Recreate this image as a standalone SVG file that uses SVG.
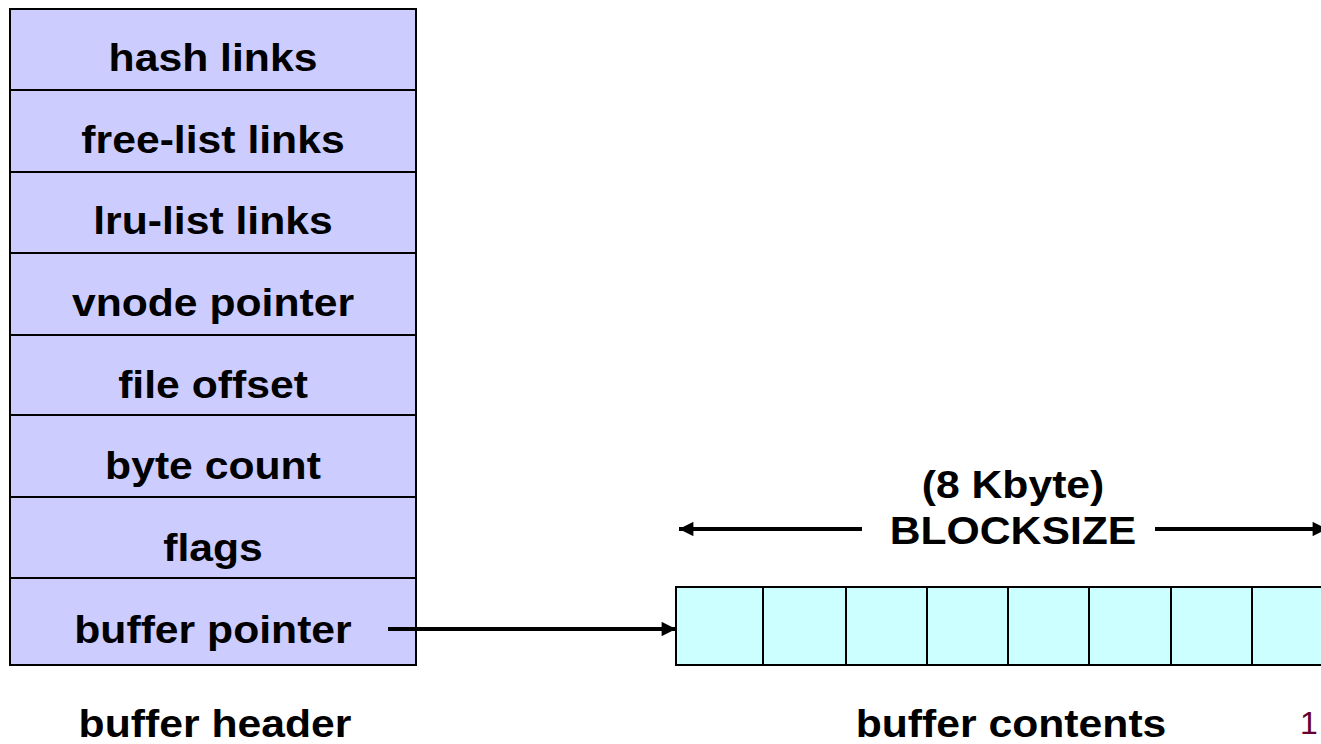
<svg xmlns="http://www.w3.org/2000/svg" width="1321" height="744" viewBox="0 0 1321 744">
  <style>
    .lbl { font-family: "Liberation Sans", Arial, sans-serif; font-weight: bold; font-size: 39px; fill: #000; text-anchor: middle; }
    .hdr { fill: #CCCCFF; stroke: #000; stroke-width: 2; }
    .cell { fill: #CCFFFF; stroke: #000; stroke-width: 2; }
    .wire { stroke: #000; stroke-width: 4; fill: none; }
    .pg { font-family: "Liberation Sans", Arial, sans-serif; font-size: 32px; fill: #660033; }
  </style>
  <defs>
    <marker id="arrow" viewBox="0 0 10 10" refX="10" refY="5" markerWidth="4.5" markerHeight="3.6" orient="auto-start-reverse" markerUnits="strokeWidth">
      <path d="M0,0 L10,5 L0,10 Z" fill="#000"/>
    </marker>
  </defs>

  <!-- buffer header: stacked fields -->
  <g id="buffer-header">
    <rect class="hdr" x="10" y="9" width="406" height="656"/>
    <g stroke="#000" stroke-width="2">
      <line x1="10" y1="90" x2="416" y2="90"/>
      <line x1="10" y1="172" x2="416" y2="172"/>
      <line x1="10" y1="253" x2="416" y2="253"/>
      <line x1="10" y1="335" x2="416" y2="335"/>
      <line x1="10" y1="415" x2="416" y2="415"/>
      <line x1="10" y1="497" x2="416" y2="497"/>
      <line x1="10" y1="578" x2="416" y2="578"/>
    </g>
    <!-- labels are widened slightly around their centre line -->
    <g transform="translate(213,0) scale(1.095,1)">
      <text class="lbl" x="0" y="71">hash links</text>
      <text class="lbl" x="0" y="153">free-list links</text>
      <text class="lbl" x="0" y="234">lru-list links</text>
      <text class="lbl" x="0" y="316">vnode pointer</text>
      <text class="lbl" x="0" y="398">file offset</text>
      <text class="lbl" x="0" y="479">byte count</text>
      <text class="lbl" x="0" y="561">flags</text>
      <text class="lbl" x="0" y="643">buffer pointer</text>
    </g>
    <g transform="translate(215,0) scale(1.095,1)">
      <text class="lbl" x="0" y="737">buffer header</text>
    </g>
  </g>

  <!-- buffer contents: row of cells -->
  <g id="buffer-contents">
    <rect class="cell" x="676" y="587" width="657" height="78"/>
    <g stroke="#000" stroke-width="2">
      <line x1="763" y1="587" x2="763" y2="665"/>
      <line x1="846" y1="587" x2="846" y2="665"/>
      <line x1="927" y1="587" x2="927" y2="665"/>
      <line x1="1008" y1="587" x2="1008" y2="665"/>
      <line x1="1089" y1="587" x2="1089" y2="665"/>
      <line x1="1171" y1="587" x2="1171" y2="665"/>
      <line x1="1252" y1="587" x2="1252" y2="665"/>
    </g>
    <g transform="translate(1011,0) scale(1.095,1)">
      <text class="lbl" x="0" y="737">buffer contents</text>
    </g>
  </g>

  <!-- block size dimension -->
  <g id="blocksize" transform="translate(1013,0) scale(1.095,1)">
    <text class="lbl" x="0" y="498">(8 Kbyte)</text>
    <text class="lbl" x="0" y="544">BLOCKSIZE</text>
  </g>

  <g id="connectors">
    <line class="wire" x1="388" y1="629" x2="676" y2="629" marker-end="url(#arrow)"/>
    <line class="wire" x1="862" y1="529" x2="679" y2="529" marker-end="url(#arrow)"/>
    <line class="wire" x1="1155" y1="529" x2="1327" y2="529" marker-end="url(#arrow)"/>
  </g>

  <text class="pg" x="1300" y="734">1</text>
</svg>
